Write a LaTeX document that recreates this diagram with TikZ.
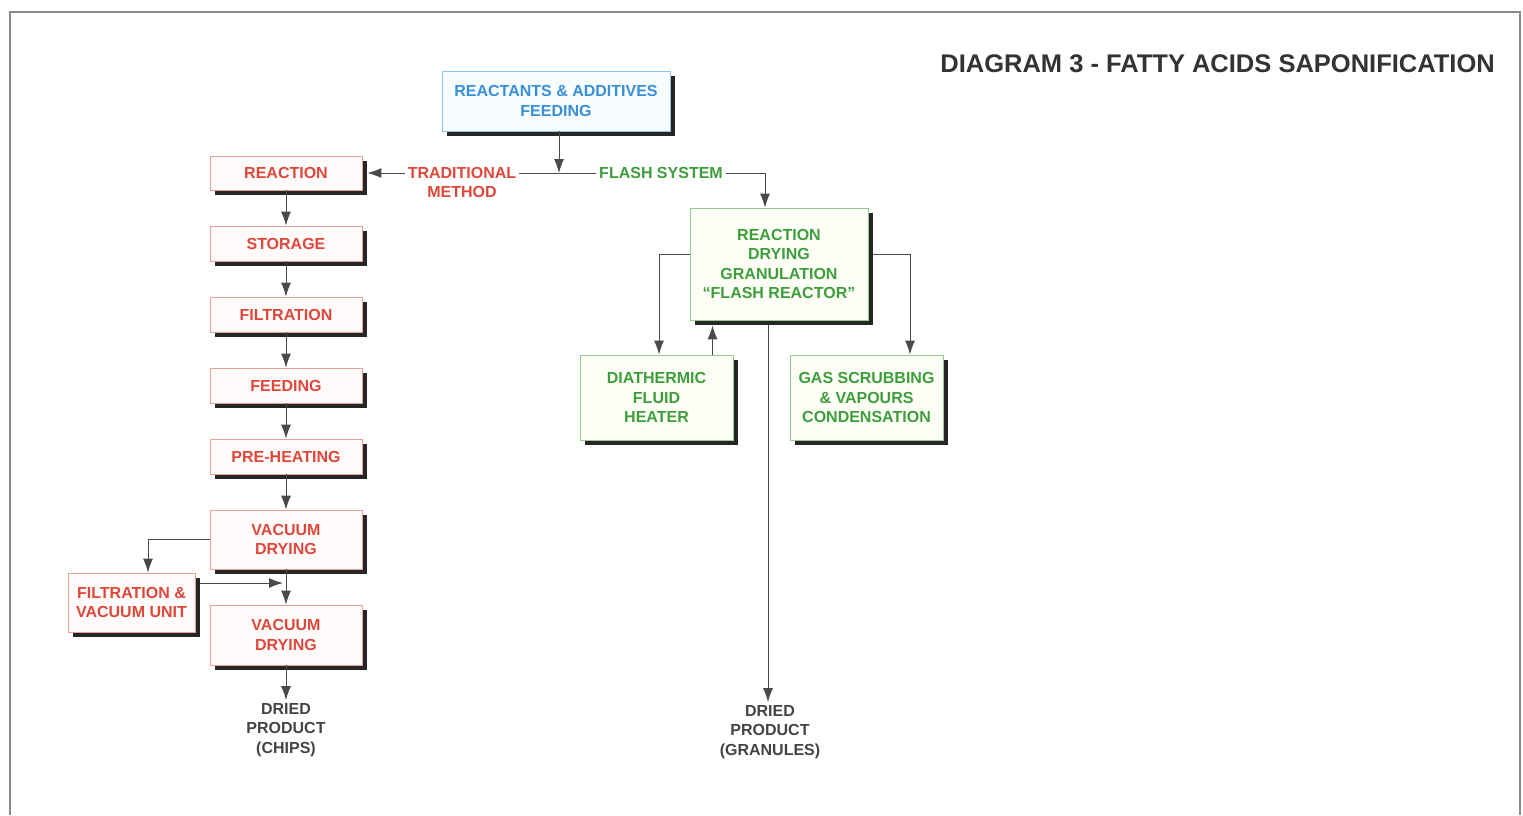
\documentclass[tikz,border=0pt]{standalone}
\usepackage{fontspec}
\setmainfont{Liberation Sans}
\usetikzlibrary{shadows,arrows.meta}
\definecolor{tred}{HTML}{E0473B}
\definecolor{redborder}{HTML}{E8A097}
\definecolor{redfill}{HTML}{FFFBFA}
\definecolor{tgreen}{HTML}{3E9E3C}
\definecolor{greenborder}{HTML}{92CC8E}
\definecolor{greenfill}{HTML}{FDFFF6}
\definecolor{tblue}{HTML}{3A8FD6}
\definecolor{blueborder}{HTML}{8CC8EE}
\definecolor{bluefill}{HTML}{F7FCFF}
\definecolor{tgray}{HTML}{444444}
\definecolor{framegray}{HTML}{8A8A8A}
\definecolor{linegray}{HTML}{4A4A4A}
\begin{document}
\begin{tikzpicture}[x=1pt,y=-1pt,
  box/.style={draw, line width=0.8pt, align=center, inner sep=0pt,
    font=\bfseries\fontsize{16}{19.5}\selectfont,
    drop shadow={shadow xshift=5pt, shadow yshift=-5pt, fill=black!85, opacity=1}},
  redbox/.style={box, draw=redborder, fill=redfill, text=tred},
  greenbox/.style={box, draw=greenborder, fill=greenfill, text=tgreen},
  bluebox/.style={box, draw=blueborder, fill=bluefill, text=tblue},
  lbl/.style={align=center, inner sep=3pt, font=\bfseries\fontsize{16}{19.5}\selectfont},
  arr/.style={draw=linegray, line width=1pt, -{Latex[length=14pt,width=10pt]}},
  ln/.style={draw=linegray, line width=1pt}
]
\useasboundingbox (0,0) rectangle (1523,815);
\fill[white] (0,0) rectangle (1523,815);
\draw[framegray, line width=2pt] (10,815) -- (10,12) -- (1520,12) -- (1520,815);

\node[anchor=base east, inner sep=0pt, text=black!80, font=\bfseries\fontsize{25.5}{30}\selectfont] (title) at (1495,72) {DIAGRAM 3 - FATTY ACIDS SAPONIFICATION};

% top box
\node[bluebox, minimum width=228pt, minimum height=60pt] (top) at (556,101) {REACTANTS \& ADDITIVES\\FEEDING};

% left column
\node[redbox, minimum width=152pt, minimum height=34pt] (reac) at (286,173) {REACTION};
\node[redbox, minimum width=152pt, minimum height=35pt] (stor) at (286,243.5) {STORAGE};
\node[redbox, minimum width=152pt, minimum height=35pt] (filt) at (286,314.5) {FILTRATION};
\node[redbox, minimum width=152pt, minimum height=35pt] (feed) at (286,385.5) {FEEDING};
\node[redbox, minimum width=152pt, minimum height=35pt] (preh) at (286,456.5) {PRE-HEATING};
\node[redbox, minimum width=152pt, minimum height=59pt] (vd1) at (286,539.5) {VACUUM\\DRYING};
\node[redbox, minimum width=152pt, minimum height=60pt] (vd2) at (286,635) {VACUUM\\DRYING};
\node[redbox, minimum width=127pt, minimum height=59pt] (fvu) at (131.5,602.5) {FILTRATION \&\\VACUUM UNIT};
\node[lbl, text=tgray] (chips) at (286,730) {DRIED\\PRODUCT\\(CHIPS)};

% labels on the split
\node[lbl, text=tred] (trad) at (462,182.5) {TRADITIONAL\\METHOD};
\node[lbl, text=tgreen] (flash) at (661,173) {FLASH SYSTEM};
\coordinate (j) at (559,173);

% right part
\node[greenbox, minimum width=178pt, minimum height=112pt] (fr) at (779,264) {REACTION\\DRYING\\GRANULATION\\``FLASH REACTOR''};
\node[greenbox, minimum width=153pt, minimum height=85pt] (dia) at (656.5,397.5) {DIATHERMIC\\FLUID\\HEATER};
\node[greenbox, minimum width=153pt, minimum height=85pt] (gas) at (866.5,397.5) {GAS SCRUBBING\\\& VAPOURS\\CONDENSATION};
\node[lbl, text=tgray] (gran) at (770,732) {DRIED\\PRODUCT\\(GRANULES)};

% connectors top
\draw[arr] ([xshift=3pt]top.south) -- (j);
\draw[ln] (trad.east |- flash.west) -- (flash.west);
\draw[arr] (trad.west |- flash.west) -- ([xshift=5pt]reac.east);
\draw[arr] (flash.east) -| ([xshift=-14pt]fr.north);

% left column connectors
\draw[arr] (reac.south) -- (stor.north);
\draw[arr] (stor.south) -- (filt.north);
\draw[arr] (filt.south) -- (feed.north);
\draw[arr] (feed.south) -- (preh.north);
\draw[arr] (preh.south) -- (vd1.north);
\draw[arr] (vd1.south) -- (vd2.north);
\draw[arr] (vd2.south) -- (chips.north);
\draw[arr] (vd1.west) -| ([xshift=16.5pt]fvu.north);
\draw[arr] ([xshift=5pt,yshift=19.5pt]fvu.east) -- ([xshift=-3pt,yshift=19.5pt]fvu.east -| vd1.south);

% right part connectors
\draw[arr] ([yshift=10pt]fr.west) -| ([xshift=2.5pt]dia.north);
\draw[arr] ([xshift=56pt]dia.north) -- ([xshift=56pt,yshift=-5pt]dia.north |- fr.south);
\draw[arr] ([xshift=5pt,yshift=10pt]fr.east) -| ([xshift=43.5pt]gas.north);
\draw[arr] ([xshift=-11pt,yshift=-5pt]fr.south) -- ([xshift=-11pt]fr.south |- gran.north);
\end{tikzpicture}
\end{document}
